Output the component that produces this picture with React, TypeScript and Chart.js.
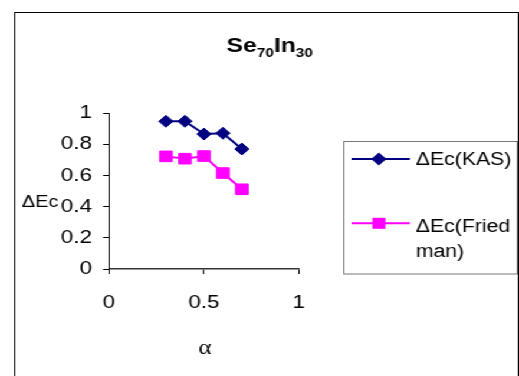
import React, { useEffect, useRef } from 'react';
import { Chart, registerables } from 'chart.js';

Chart.register(...registerables);

// Conversion fraction and activation-energy ratio for the Se70In30 glass
const alphaValues = [0.3, 0.4, 0.5, 0.6, 0.7];
const kasValues = [0.947, 0.947, 0.865, 0.87, 0.769];
const friedmanValues = [0.722, 0.707, 0.724, 0.615, 0.511];

const xTickValues = [0, 0.5, 1];
const yTickValues = [0, 0.2, 0.4, 0.6, 0.8, 1];

const kasLabel = 'ΔEc(KAS)';
const friedmanLabel = ['ΔEc(Fried', 'man)'];
const yAxisTitle = 'ΔEc';
const xAxisTitle = 'α';

const KAS_COLOR = '#000080';
const FRIEDMAN_COLOR = '#FF00FF';
const SANS = "'Liberation Sans', Arial, sans-serif";
const SERIF = "'Liberation Serif', 'Times New Roman', serif";

// Drawing surface is rendered narrow and stretched sideways to the final width
const W = 440;
const H = 376;
const STRETCH = 519 / W;

function diamond(ctx: CanvasRenderingContext2D, x: number, y: number, r: number) {
  ctx.beginPath();
  ctx.moveTo(x - r, y);
  ctx.lineTo(x, y - r);
  ctx.lineTo(x + r, y);
  ctx.lineTo(x, y + r);
  ctx.closePath();
  ctx.fill();
}

const decorPlugin = {
  id: 'decor',
  afterDraw(chart: Chart) {
    const ctx = chart.ctx;
    ctx.save();

    // outer frame
    ctx.strokeStyle = '#000';
    ctx.lineWidth = 1;
    ctx.strokeRect(12.5, 12.5, 427, 400);

    // title with subscripts
    const parts = [
      { t: 'Se', sub: false },
      { t: '70', sub: true },
      { t: 'In', sub: false },
      { t: '30', sub: true },
    ];
    const bigFont = `bold 21px ${SANS}`;
    const smallFont = `bold 13px ${SANS}`;
    let total = 0;
    for (const p of parts) {
      ctx.font = p.sub ? smallFont : bigFont;
      total += ctx.measureText(p.t).width;
    }
    let tx = 228.7 - total / 2;
    ctx.fillStyle = '#000';
    ctx.textAlign = 'left';
    ctx.textBaseline = 'alphabetic';
    for (const p of parts) {
      ctx.font = p.sub ? smallFont : bigFont;
      ctx.fillText(p.t, tx, p.sub ? 57 : 52);
      tx += ctx.measureText(p.t).width;
    }

    // axis titles
    ctx.font = `17px ${SANS}`;
    ctx.fillText(yAxisTitle, 18.4, 207);
    ctx.font = `21px ${SERIF}`;
    ctx.textAlign = 'center';
    ctx.fillText(xAxisTitle, 173.7, 354);

    // legend
    ctx.strokeStyle = '#777';
    ctx.lineWidth = 1;
    ctx.strokeRect(291.5, 141.5, 147, 132.5);

    ctx.lineWidth = 2;
    ctx.strokeStyle = KAS_COLOR;
    ctx.beginPath();
    ctx.moveTo(298, 159);
    ctx.lineTo(347.5, 159);
    ctx.stroke();
    ctx.fillStyle = KAS_COLOR;
    diamond(ctx, 321.2, 159, 6.5);

    ctx.strokeStyle = FRIEDMAN_COLOR;
    ctx.beginPath();
    ctx.moveTo(298, 223.3);
    ctx.lineTo(347.5, 223.3);
    ctx.stroke();
    ctx.fillStyle = FRIEDMAN_COLOR;
    ctx.fillRect(321.2 - 5.5, 223.3 - 5.5, 11, 11);

    ctx.fillStyle = '#000';
    ctx.textAlign = 'left';
    ctx.font = `18px ${SANS}`;
    ctx.fillText(kasLabel, 352.5, 165);
    ctx.fillText(friedmanLabel[0], 352.5, 232);
    ctx.fillText(friedmanLabel[1], 352.5, 256.5);

    ctx.restore();
  },
};

export default function App() {
  const canvasRef = useRef<HTMLCanvasElement | null>(null);

  useEffect(() => {
    const canvas = canvasRef.current;
    if (!canvas) return;
    const tickFont = { family: SANS, size: 19 };

    const chart = new Chart(canvas, {
      type: 'scatter',
      data: {
        datasets: [
          {
            label: kasLabel,
            data: alphaValues.map((x, i) => ({ x, y: kasValues[i] })),
            showLine: true,
            borderColor: KAS_COLOR,
            backgroundColor: KAS_COLOR,
            borderWidth: 2,
            pointStyle: 'rectRot',
            pointRadius: 6,
            pointBorderWidth: 1,
            pointBorderColor: KAS_COLOR,
            pointBackgroundColor: KAS_COLOR,
          },
          {
            label: friedmanLabel.join(''),
            data: alphaValues.map((x, i) => ({ x, y: friedmanValues[i] })),
            showLine: true,
            borderColor: FRIEDMAN_COLOR,
            backgroundColor: FRIEDMAN_COLOR,
            borderWidth: 2,
            pointStyle: 'rect',
            pointRadius: 7.5,
            pointBorderWidth: 1,
            pointBorderColor: FRIEDMAN_COLOR,
            pointBackgroundColor: FRIEDMAN_COLOR,
          },
        ],
      },
      options: {
        animation: false,
        responsive: false,
        devicePixelRatio: 1,
        layout: { padding: { left: 0, top: 113, right: W - 253.4, bottom: 47 } },
        plugins: {
          legend: { display: false },
          title: { display: false },
          tooltip: { enabled: false },
        },
        scales: {
          x: {
            type: 'linear',
            min: 0,
            max: 1,
            clip: false,
            afterBuildTicks: (scale: any) => {
              scale.ticks = xTickValues.map((value) => ({ value }));
            },
            afterFit: (scale: any) => {
              scale.height = 60;
            },
            grid: { drawOnChartArea: false, drawTicks: true, tickLength: 5, color: '#000', lineWidth: 1 },
            border: { display: true, color: '#333', width: 1.5 },
            ticks: {
              padding: 17.5,
              color: '#000',
              font: tickFont,
              maxRotation: 0,
              callback: (v: any) => String(v),
            },
          },
          y: {
            type: 'linear',
            min: 0,
            max: 1,
            clip: false,
            afterBuildTicks: (scale: any) => {
              scale.ticks = yTickValues.map((value) => ({ value }));
            },
            afterFit: (scale: any) => {
              scale.width = 92.4;
            },
            grid: { drawOnChartArea: false, drawTicks: true, tickLength: 5, color: '#000', lineWidth: 1 },
            border: { display: true, color: '#000', width: 1 },
            ticks: {
              padding: 9.4,
              color: '#000',
              font: tickFont,
              callback: (v: any) => String(v),
            },
          },
        },
      },
      plugins: [decorPlugin],
    });

    return () => chart.destroy();
  }, []);

  return (
    <div
      style={{
        position: 'absolute',
        left: 0,
        top: 0,
        width: W,
        height: H,
        background: '#fff',
        transform: `scaleX(${STRETCH})`,
        transformOrigin: '0 0',
      }}
    >
      <canvas ref={canvasRef} width={W} height={H} style={{ display: 'block', width: W, height: H }} />
    </div>
  );
}
